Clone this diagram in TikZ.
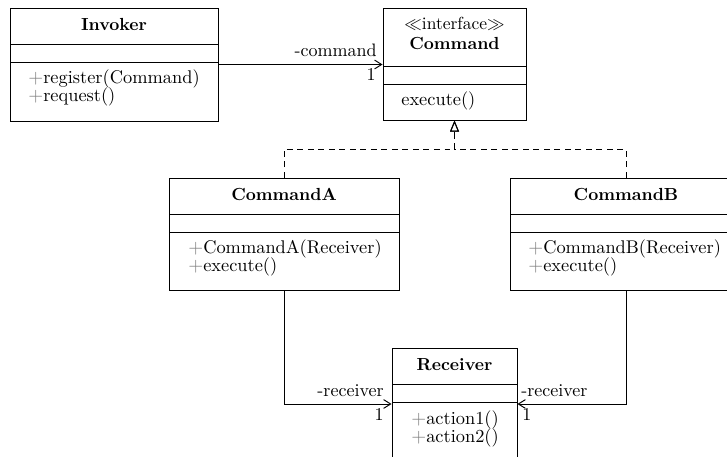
\documentclass[tikz,border=0pt]{standalone}
\usetikzlibrary{fit,arrows.meta,calc}
\begin{document}
\begin{tikzpicture}[x=0.5714pt,y=-0.5714pt,
  classbox/.style={draw,inner sep=0pt,line width=0.55pt},
  sep/.style={line width=0.55pt},
  txt/.style={inner sep=0pt,text height=1.5ex,text depth=0.4ex},
  mem/.style={txt,anchor=west,font=\fontsize{10.5}{12}\selectfont},
  ttl/.style={txt,font=\bfseries},
  lbl/.style={inner sep=0pt,text height=1.5ex,text depth=0.25ex,font=\fontsize{10.3}{12}\selectfont},
  assoc/.style={line width=0.55pt,-{Straight Barb[length=4pt,width=5pt]}},
  real/.style={line width=0.55pt,dashed,dash pattern=on 3.4pt off 2.6pt,-{Triangle[open,length=6.3pt,width=5pt]}}]
\useasboundingbox (0,0) rectangle (727,457);
\clip (0,0) rectangle (727,457);
\newcommand\pl{\textcolor{gray}{$+$}}
% Invoker
\node[classbox,fit={(10,8) (218,121)}] (inv) {};
\draw[sep] (10,44) -- (218,44);
\draw[sep] (10,62) -- (218,62);
\node[ttl] (invt) at (114,26) {Invoker};
\node[mem] (invm1) at (28,79) {\pl register(Command)};
\node[mem] (invm2) at (28,97) {\pl request()};
% Command
\node[classbox,fit={(383,8) (526,120)}] (cmd) {};
\draw[sep] (383,66) -- (526,66);
\draw[sep] (383,84) -- (526,84);
\node[txt] (cmds) at (454.5,25) {$\ll$interface$\gg$};
\node[ttl] (cmdt) at (454.5,45) {Command};
\node[mem] (cmdm1) at (401,101) {execute()};
% CommandA
\node[classbox,fit={(169,178) (399,290)}] (ca) {};
\draw[sep] (169,214) -- (399,214);
\draw[sep] (169,232) -- (399,232);
\node[ttl] (cat) at (284,196) {CommandA};
\node[mem] (cam1) at (188,249) {\pl CommandA(Receiver)};
\node[mem] (cam2) at (188,267) {\pl execute()};
% CommandB
\node[classbox,fit={(510,178) (742,290)}] (cb) {};
\draw[sep] (510,214) -- (742,214);
\draw[sep] (510,232) -- (742,232);
\node[ttl] (cbt) at (626,196) {CommandB};
\node[mem] (cbm1) at (528,249) {\pl CommandB(Receiver)};
\node[mem] (cbm2) at (528,267) {\pl execute()};
% Receiver
\node[classbox,fit={(392,348) (517,460)}] (rcv) {};
\draw[sep] (392,384) -- (517,384);
\draw[sep] (392,402) -- (517,402);
\node[ttl] (rcvt) at (454.5,366) {Receiver};
\node[mem] (rcvm1) at (411,420) {\pl action1()};
\node[mem] (rcvm2) at (411,438) {\pl action2()};
% association Invoker -> Command
\draw[assoc] (inv.east) -- (inv.east -| cmd.west);
\node[lbl,anchor=east] (l1) at (377,52) {-command};
\node[lbl,anchor=east] (m1) at (376,76) {1};
% realizations
\coordinate (jn) at (454.5,149);
\draw[real] (ca.north) |- (jn) -- (cmd.south);
\draw[real] (cb.north) |- (jn) -- (cmd.south);
% associations to Receiver
\draw[assoc] (ca.south) |- (rcv.west);
\draw[assoc] (cb.south) |- (rcv.east);
\node[lbl,anchor=east] (l2) at (384,392) {-receiver};
\node[lbl,anchor=east] (m2) at (384,416) {1};
\node[lbl,anchor=west] (l3) at (521,392) {-receiver};
\node[lbl,anchor=west] (m3) at (522,416) {1};
\end{tikzpicture}
\end{document}
